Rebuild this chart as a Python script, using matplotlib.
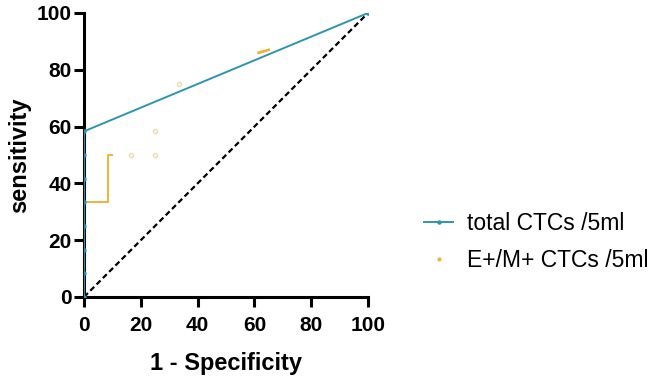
import numpy as np
import matplotlib.pyplot as plt

# total CTCs /5ml ROC points
tot_x = [0, 0, 0, 0, 0, 0, 0, 0, 100]
tot_y = [0, 8.33, 16.67, 25, 33.33, 41.67, 50, 58.33, 100]

# E+/M+ CTCs /5ml ROC points
em_x = [0, 0, 0, 0, 0, 8.33, 8.33, 8.33, 10, 16.67, 25, 25, 33.33, 61.5, 65, 100]
em_y = [0, 8.33, 16.67, 25, 33.33, 33.33, 41.67, 50, 50, 50, 50, 58.33, 75, 86, 87, 100]
em_line = [1, 1, 1, 1, 1, 1, 1, 1, 1, 0, 0, 0, 0, 1, 1, 0]

ticks = [0, 20, 40, 60, 80, 100]

blue = '#2f93b3'
orange = '#f2b13a'
font = ['Liberation Sans', 'DejaVu Sans']

fig = plt.figure(figsize=(6.64, 3.78), dpi=100)
ax = fig.add_axes([84 / 664, 81 / 378, 284 / 664, 284 / 378])

ax.plot([0, 100], [0, 100], color='black', ls=(0, (2.5, 1.5)), lw=1.6, zorder=1)

ex = np.array(em_x, dtype=float)
ey = np.array(em_y, dtype=float)
mask = np.array(em_line, dtype=bool)
# visible pieces of the orange step curve
ax.plot(ex[4:9], ey[4:9], color=orange, lw=1.4, zorder=2)
ax.plot(ex[13:15], ey[13:15], color=orange, lw=2, zorder=2)
ax.plot(ex[~mask], ey[~mask], ls='none', marker='o', ms=3, mfc='none',
        mec='#f0d49c', mew=0.8, zorder=2)

ax.plot(tot_x, tot_y, color=blue, lw=1.4, marker='o', ms=2.2, zorder=3,
        label='total CTCs /5ml')
ax.plot([], [], ls='none', marker='o', ms=2, color=orange,
        label='E+/M+ CTCs /5ml')

ax.set_xlim(0, 100)
ax.set_ylim(0, 100)
ax.set_xticks(ticks)
ax.set_yticks(ticks)
for s in ['top', 'right']:
    ax.spines[s].set_visible(False)
for s in ['left', 'bottom']:
    ax.spines[s].set_linewidth(2.2)
ax.tick_params(width=2.2, length=7, labelsize=15)
ax.tick_params(axis='x', pad=7)
ax.tick_params(axis='y', pad=2)
for lab in ax.get_xticklabels() + ax.get_yticklabels():
    lab.set_fontweight('bold')
    lab.set_family(font)
ax.set_xlabel('1 - Specificity', fontsize=17, fontweight='bold',
              family=font, labelpad=12)
ax.set_ylabel('sensitivity', fontsize=17, fontweight='bold',
              family=font, labelpad=4)

fig.legend(loc='center left', bbox_to_anchor=(0.607, 0.36), frameon=False,
           prop={'family': font, 'size': 16.5},
           handlelength=1.3, handletextpad=0.6, labelspacing=0.6)

fig.savefig('out.png', dpi=100)
